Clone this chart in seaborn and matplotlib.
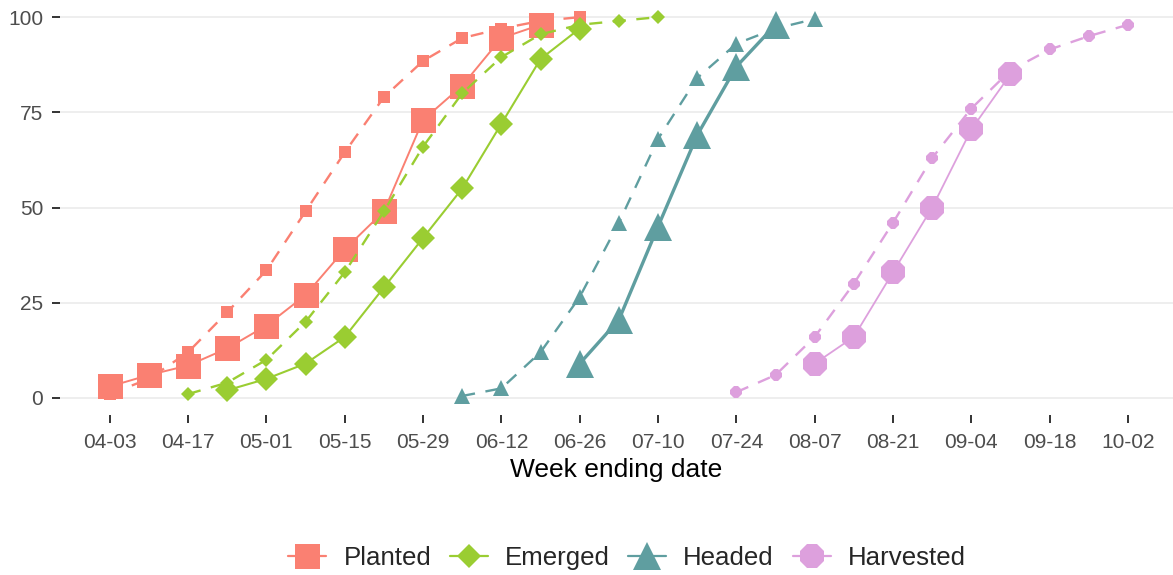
import numpy as np
import pandas as pd
import matplotlib
matplotlib.use("Agg")
import matplotlib.pyplot as plt
import matplotlib.dates as mdates
from matplotlib.lines import Line2D
import seaborn as sns

# ---------------- data ----------------
stages = ["Planted", "Emerged", "Headed", "Harvested"]

# current year (solid line, large markers): first week-ending date + weekly values
planted_start = "2022-04-03"
planted_current = [3, 6, 8.5, 13, 19, 27, 39, 49, 73, 82, 94.5, 98]
emerged_start = "2022-04-24"
emerged_current = [2, 5, 9, 16, 29, 42, 55, 72, 89, 97]
headed_start = "2022-06-26"
headed_current = [9, 20.5, 45, 69, 87, 98]
harvested_start = "2022-08-07"
harvested_current = [9, 16, 33, 50, 70.5, 85]

# average (dashed line, small markers)
planted_avg_start = "2022-04-03"
planted_avg = [1, 5, 12, 22.5, 33.5, 49, 64.5, 79, 88.5, 94.5, 97, 99, 100]
emerged_avg_start = "2022-04-17"
emerged_avg = [1, 4, 10, 20, 33, 49, 66, 80, 89.5, 95.5, 98, 99, 100]
headed_avg_start = "2022-06-05"
headed_avg = [0.5, 2.5, 12, 26.5, 46, 68, 84, 93, 97, 99.5]
harvested_avg_start = "2022-07-24"
harvested_avg = [1.5, 6, 16, 30, 46, 63, 76, 86, 91.5, 95, 98]

x_tick_start = "2022-04-03"
x_tick_end = "2022-10-02"
y_ticks = [0, 25, 50, 75, 100]

colors = ["#FA8072", "#9ACD32", "#5F9EA0", "#DDA0DD"]
markers = ["s", "D", "^", "8"]
big_ms = [18, 12.7, 20, 19]
small_ms = [9, 7.6, 11, 9.4]
solid_lw = [1.4, 1.5, 2.4, 1.3]

current_series = [(planted_start, planted_current), (emerged_start, emerged_current),
                  (headed_start, headed_current), (harvested_start, harvested_current)]
avg_series = [(planted_avg_start, planted_avg), (emerged_avg_start, emerged_avg),
              (headed_avg_start, headed_avg), (harvested_avg_start, harvested_avg)]

rows = []
for stage, (s, vals) in zip(stages, current_series):
    for d, v in zip(pd.date_range(s, periods=len(vals), freq="7D"), vals):
        rows.append({"date": d, "pct": v, "stage": stage, "kind": "current"})
for stage, (s, vals) in zip(stages, avg_series):
    for d, v in zip(pd.date_range(s, periods=len(vals), freq="7D"), vals):
        rows.append({"date": d, "pct": v, "stage": stage, "kind": "average"})
df = pd.DataFrame(rows)

# ---------------- plot ----------------
sns.set_style("white")
plt.rcParams["font.family"] = ["Liberation Sans", "DejaVu Sans"]

W, H = 1173, 575
fig = plt.figure(figsize=(W / 100, H / 100), dpi=100)
ax = fig.add_axes([60 / W, 1 - 415 / H, 1 - 60 / W, 415 / H])

for i, stage in enumerate(stages):
    sub_a = df[(df.stage == stage) & (df.kind == "average")]
    sns.lineplot(data=sub_a, x="date", y="pct", ax=ax, color=colors[i],
                 marker=markers[i], markersize=small_ms[i], markeredgewidth=0,
                 markeredgecolor=colors[i], linewidth=1.7,
                 linestyle=(0, (5.5, 4.5)), legend=False, estimator=None)
    sub_c = df[(df.stage == stage) & (df.kind == "current")]
    sns.lineplot(data=sub_c, x="date", y="pct", ax=ax, color=colors[i],
                 marker=markers[i], markersize=big_ms[i], markeredgewidth=0,
                 markeredgecolor=colors[i], linewidth=solid_lw[i],
                 legend=False, estimator=None)

x0 = mdates.date2num(pd.Timestamp(x_tick_start))
x1 = mdates.date2num(pd.Timestamp(x_tick_end))
ax.set_xlim(x0 - 8.9, x1 + 8.05)
ax.set_ylim(-4.5, 104.5)

ax.set_xticks(pd.date_range(x_tick_start, x_tick_end, freq="14D"))
ax.xaxis.set_major_formatter(mdates.DateFormatter("%m-%d"))
ax.set_yticks(y_ticks)
ax.set_yticklabels([str(v) for v in y_ticks])

ax.grid(False)
ax.yaxis.grid(True, color="#EBEBEB", linewidth=1.2)
for sp in ax.spines.values():
    sp.set_visible(False)

ax.tick_params(axis="both", bottom=True, left=True, direction="out",
               length=6, width=1.4, color="#333333",
               labelcolor="#4D4D4D", labelsize=15)
ax.tick_params(axis="x", pad=7)
ax.tick_params(axis="y", pad=6)

ax.set_xlabel("Week ending date", fontsize=19, color="black", labelpad=4)
ax.set_ylabel("")

handles = [Line2D([0], [0], color=c, marker=m, markersize=ms, linewidth=1.6,
                  markeredgewidth=0) for c, m, ms in zip(colors, markers, big_ms)]
fig.legend(handles, stages, loc="center", bbox_to_anchor=(627 / W, 1 - 558 / H),
           ncol=4, frameon=False, fontsize=18.6, handlelength=1.47,
           handletextpad=0.66, columnspacing=0.72)

fig.savefig("out.png", dpi=100)
